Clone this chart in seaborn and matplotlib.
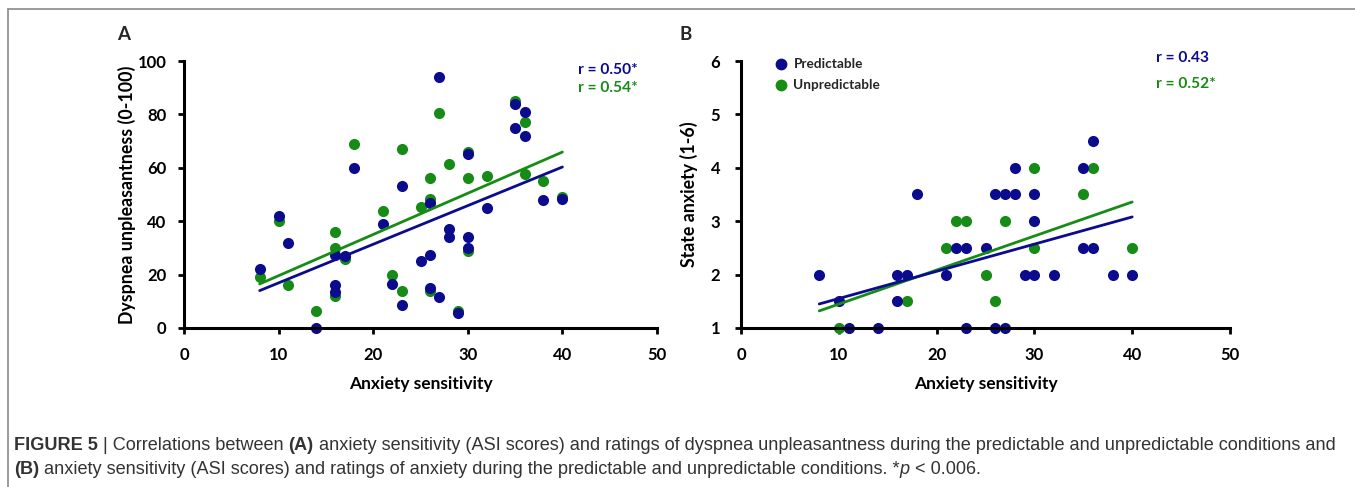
import matplotlib
matplotlib.use("Agg")
import matplotlib.pyplot as plt
import seaborn as sns
import pandas as pd
from matplotlib.lines import Line2D

# ---------------- data ----------------
# Panel A: anxiety sensitivity vs dyspnea unpleasantness (0-100)
A_pred_x = [8, 10, 11, 14, 16, 16, 16, 17, 18, 21, 22, 23, 23, 25, 26, 26, 26, 27, 27,
            28, 28, 29, 30, 30, 30, 32, 35, 35, 36, 36, 38, 40]
A_pred_y = [22, 42, 32, 0, 27.5, 16, 13.3, 27, 60, 39, 16.5, 53, 8.5, 25, 47, 27.5, 15, 94, 11.5,
            37, 34, 5.5, 65, 34, 30, 45, 84, 75, 81, 72, 48, 48.5]
A_unpred_x = [8, 10, 11, 14, 16, 16, 16, 17, 18, 21, 22, 23, 23, 25, 26, 26, 26, 27,
              28, 29, 30, 30, 30, 32, 35, 36, 36, 38, 40]
A_unpred_y = [19, 40, 16, 6.5, 36, 30, 12, 26, 69, 44, 20, 67, 14, 45.5, 56, 48.5, 14, 80.5,
              61.5, 6.5, 66, 56, 29, 57, 85, 77, 57.5, 55, 49]

# Panel B: anxiety sensitivity vs state anxiety (1-6)
B_pred_x = [8, 10, 11, 14, 16, 16, 17, 18, 21, 22, 23, 23, 25, 26, 26, 27, 27, 28, 28,
            29, 30, 30, 30, 32, 35, 35, 36, 36, 38, 40]
B_pred_y = [2, 1.5, 1, 1, 2, 1.5, 2, 3.5, 2, 2.5, 2.5, 1, 2.5, 1, 3.5, 1, 3.5, 3.5, 4,
            2, 3.5, 3, 2, 2, 4, 2.5, 4.5, 2.5, 2, 2]
B_unpred_x = [10, 17, 21, 22, 23, 25, 26, 27, 30, 30, 35, 36, 40]
B_unpred_y = [1, 1.5, 2.5, 3, 3, 2, 1.5, 3, 4, 2.5, 3.5, 4, 2.5]

# regression lines (end points)
fit_x = [8, 40]
A_pred_fit = [14.0, 60.3]
A_unpred_fit = [16.5, 65.9]
B_pred_fit = [1.45, 3.08]
B_unpred_fit = [1.32, 3.36]

A_r_labels = ["r = 0.50*", "r = 0.54*"]
B_r_labels = ["r = 0.43", "r = 0.52*"]
conditions = ["Predictable", "Unpredictable"]

xlabel = "Anxiety sensitivity"
A_ylabel = "Dyspnea unpleasantness (0-100)"
B_ylabel = "State anxiety (1-6)"
A_xticks = [0, 10, 20, 30, 40, 50]
A_yticks = [0, 20, 40, 60, 80, 100]
B_xticks = [0, 10, 20, 30, 40, 50]
B_yticks = [1, 2, 3, 4, 5, 6]

# caption runs: (text, weight, style, space-before)
caption_l1 = [("FIGURE 5", "bold", "normal", False),
              ("| Correlations between", "normal", "normal", True),
              ("(A)", "bold", "normal", True),
              ("anxiety sensitivity (ASI scores) and ratings of dyspnea unpleasantness during the predictable and unpredictable conditions and", "normal", "normal", True)]
caption_l2 = [("(B)", "bold", "normal", False),
              ("anxiety sensitivity (ASI scores) and ratings of anxiety during the predictable and unpredictable conditions. *", "normal", "normal", True),
              ("p", "normal", "italic", False),
              ("< 0.006.", "normal", "normal", True)]

# ---------------- style ----------------
sns.set_style("ticks")
plt.rcParams["font.family"] = ["Lato", "DejaVu Sans"]
BLUE = "#0b0b8e"
GREEN = "#168c16"

W, H = 1355, 487
fig = plt.figure(figsize=(W / 100, H / 100), dpi=100)


def px_axes(x0, x1, y0, y1):
    return fig.add_axes([x0 / W, 1 - y1 / H, (x1 - x0) / W, (y1 - y0) / H])


axA = px_axes(184, 657, 61, 328)
axB = px_axes(741, 1230, 61, 328)


def draw_panel(ax, px, py, ux, uy, pfit, ufit, xt, yt, ylab, ylim, ypad, ylab_x):
    dfu = pd.DataFrame({"x": ux, "y": uy})
    dfp = pd.DataFrame({"x": px, "y": py})
    sns.scatterplot(data=dfu, x="x", y="y", ax=ax, color=GREEN, s=64, linewidth=0, zorder=3)
    sns.scatterplot(data=dfp, x="x", y="y", ax=ax, color=BLUE, s=64, linewidth=0, zorder=4)
    sns.lineplot(x=fit_x, y=ufit, ax=ax, color=GREEN, lw=2, zorder=5)
    sns.lineplot(x=fit_x, y=pfit, ax=ax, color=BLUE, lw=2, zorder=6)
    ax.set_xlim(xt[0], xt[-1])
    ax.set_ylim(*ylim)
    ax.set_xticks(xt)
    ax.set_yticks(yt)
    sns.despine(ax=ax)
    for s in ("left", "bottom"):
        ax.spines[s].set_linewidth(2.2)
        ax.spines[s].set_color("black")
        ax.spines[s].set_zorder(10)
    ax.tick_params(axis="both", direction="out", length=4, width=2, colors="black",
                   labelsize=12)
    ax.tick_params(axis="x", pad=10)
    ax.tick_params(axis="y", pad=ypad)
    for lab in ax.get_xticklabels() + ax.get_yticklabels():
        lab.set_fontweight("bold")
    ax.set_xlabel(xlabel, fontsize=12.5, fontweight="bold", color="black")
    ax.set_ylabel(ylab, fontsize=12.8, fontweight="bold", color="black")
    ax.xaxis.set_label_coords(0.5, -0.18)
    ax.yaxis.set_label_coords(ylab_x, 0.5)
    for c in (ax.collections + ax.lines):
        c.set_clip_on(False)


draw_panel(axA, A_pred_x, A_pred_y, A_unpred_x, A_unpred_y, A_pred_fit, A_unpred_fit,
           A_xticks, A_yticks, A_ylabel, (0, 100), 8.5, -0.102)
draw_panel(axB, B_pred_x, B_pred_y, B_unpred_x, B_unpred_y, B_pred_fit, B_unpred_fit,
           B_xticks, B_yticks, B_ylabel, (1, 6), 11, -0.088)

# correlation annotations
rfs = 11.2
axA.text(41.7, 96.5, A_r_labels[0], color=BLUE, fontsize=rfs, fontweight="bold", va="center", ha="left")
axA.text(41.7, 90, A_r_labels[1], color=GREEN, fontsize=rfs, fontweight="bold", va="center", ha="left")
axB.text(42.4, 6.05, B_r_labels[0], color=BLUE, fontsize=rfs, fontweight="bold", va="center", ha="left")
axB.text(42.4, 5.56, B_r_labels[1], color=GREEN, fontsize=rfs, fontweight="bold", va="center", ha="left")

# legend in panel B
handles = [Line2D([], [], ls="none", marker="o", ms=8.5, mfc=BLUE, mec="none"),
           Line2D([], [], ls="none", marker="o", ms=8.5, mfc=GREEN, mec="none")]
leg = axB.legend(handles, conditions, loc="upper left", bbox_to_anchor=(0.053, 1.03),
                 frameon=False, handletextpad=0.35, labelspacing=0.65, borderaxespad=0,
                 handlelength=1.2, prop={"weight": "bold", "size": 9.8})

# panel letters
fig.text(124 / W, 1 - 35 / H, "A", fontsize=13.5, fontweight="bold", ha="center", va="center")
fig.text(686 / W, 1 - 35 / H, "B", fontsize=13.5, fontweight="bold", ha="center", va="center")

# frame lines
fig.add_artist(Line2D([8 / W, 1], [1 - 9 / H, 1 - 9 / H], transform=fig.transFigure,
                      color="#8a8a8a", lw=1.2))
fig.add_artist(Line2D([8 / W, 8 / W], [0, 1 - 9 / H], transform=fig.transFigure,
                      color="#8a8a8a", lw=1.2))

# caption as runs of text
renderer = fig.canvas.get_renderer()
CAP_FONT = ["Liberation Sans Narrow", "Liberation Sans", "DejaVu Sans"]
CAP_COLOR = "#333333"


def draw_runs(runs, x0, y, fs):
    probe1 = fig.text(0, 0, "x x", fontsize=fs, family=CAP_FONT)
    probe2 = fig.text(0, 0, "xx", fontsize=fs, family=CAP_FONT)
    gap = probe1.get_window_extent(renderer).width - probe2.get_window_extent(renderer).width
    probe1.remove(); probe2.remove()
    x = x0
    texts = []
    for (s, w, st, sp) in runs:
        if sp:
            x += gap
        t = fig.text(x / W, 1 - y / H, s, fontsize=fs, fontweight=w, fontstyle=st,
                     family=CAP_FONT, color=CAP_COLOR, ha="left", va="center")
        texts.append(t)
        x += t.get_window_extent(renderer).width
    return x - x0, texts


base = 10.0
width, ts = draw_runs(caption_l1, 14, 446, base)
for t in ts:
    t.remove()
fs = base * (1326 / width)
draw_runs(caption_l1, 14, 446, fs)
draw_runs(caption_l2, 14, 470, fs)

fig.savefig("out.png", dpi=100)
